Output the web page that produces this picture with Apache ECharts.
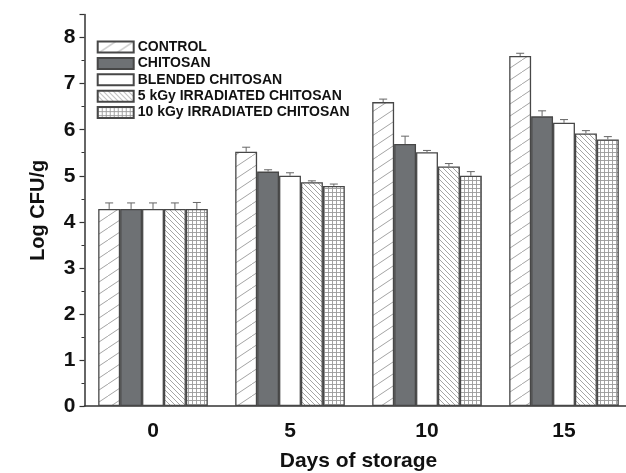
<!DOCTYPE html>
<html>
<head>
<meta charset="utf-8">
<script src="https://cdn.jsdelivr.net/npm/echarts@6/dist/echarts.min.js"></script>
<style>html,body{margin:0;padding:0;background:#fff}#c{width:626px;height:473px}</style>
</head>
<body>
<div id="c"></div>
<script>
// ---- data ----
const days = ['0', '5', '10', '15'];
const seriesNames = ['CONTROL', 'CHITOSAN', 'BLENDED CHITOSAN', '5 kGy IRRADIATED CHITOSAN', '10 kGy IRRADIATED CHITOSAN'];
const control   = [4.28, 5.52, 6.60, 7.60];
const chitosan  = [4.28, 5.09, 5.69, 6.29];
const blended   = [4.28, 5.00, 5.51, 6.15];
const irr5      = [4.28, 4.86, 5.20, 5.92];
const irr10     = [4.28, 4.78, 5.00, 5.79];
const errControl  = [0.13, 0.10, 0.065, 0.06];
const errChitosan = [0.13, 0.04, 0.17, 0.12];
const errBlended  = [0.13, 0.065, 0.04, 0.07];
const errIrr5     = [0.13, 0.03, 0.065, 0.06];
const errIrr10    = [0.14, 0.04, 0.09, 0.06];
const yTicks = [0, 1, 2, 3, 4, 5, 6, 7, 8];

const values = [control, chitosan, blended, irr5, irr10];
const errors = [errControl, errChitosan, errBlended, errIrr5, errIrr10];

// ---- patterns ----
function pat(w, h, draw) {
  const c = document.createElement('canvas');
  c.width = w; c.height = h;
  const g = c.getContext('2d');
  g.fillStyle = '#fff'; g.fillRect(0, 0, w, h);
  g.strokeStyle = '#9a9a9a'; g.lineWidth = 0.9;
  draw(g, w, h);
  return { image: c, repeat: 'repeat' };
}
const fwd = pat(18, 12, (g, w, h) => {
  g.beginPath(); g.moveTo(-w, 2 * h); g.lineTo(2 * w, -h); g.stroke();
});
const back = pat(5, 5, (g, w, h) => {
  g.beginPath(); g.moveTo(-w, -h); g.lineTo(2 * w, 2 * h); g.stroke();
});
const grid = pat(4, 4, (g, w, h) => {
  g.strokeStyle = '#9a9a9a';
  g.beginPath(); g.moveTo(0, 0.5); g.lineTo(w, 0.5); g.moveTo(0.5, 0); g.lineTo(0.5, h); g.stroke();
});
const fills = [fwd, '#6e7174', '#ffffff', back, grid];

const BW = 0.16;
const FONT = 'Liberation Sans, Arial, sans-serif';

const series = [];
values.forEach((v, i) => {
  series.push({
    name: seriesNames[i], type: 'bar', xAxisIndex: 0,
    barWidth: (BW * 100) + '%', barGap: '0%',
    data: v,
    itemStyle: { color: fills[i], borderColor: '#474747', borderWidth: 1.3 },
    emphasis: { disabled: true }
  });
});
values.forEach((v, i) => {
  series.push({
    type: 'custom', xAxisIndex: 0, z: 5, silent: true,
    data: v.map((val, k) => [k, val, errors[i][k]]),
    renderItem: function (params, api) {
      const cx = api.coord([api.value(0), 0])[0] + api.size([1, 0])[0] * BW * (i - 2);
      const y1 = api.coord([api.value(0), api.value(1)])[1];
      const y2 = api.coord([api.value(0), api.value(1) + api.value(2)])[1];
      const st = { stroke: '#666', lineWidth: 1 };
      return { type: 'group', children: [
        { type: 'line', shape: { x1: cx, y1: y1, x2: cx, y2: y2 }, style: st },
        { type: 'line', shape: { x1: cx - 4, y1: y2, x2: cx + 4, y2: y2 }, style: st }
      ]};
    }
  });
});

const chart = echarts.init(document.getElementById('c'), null, { renderer: 'canvas' });
chart.setOption({
  animation: false,
  backgroundColor: '#fff',
  textStyle: { fontFamily: FONT },
  grid: { left: 84.5, top: 14.6, width: 548, height: 391.4, containLabel: false, outerBoundsMode: 'none' },
  legend: {
    data: seriesNames, orient: 'vertical', left: 96.7, top: 40, padding: 0,
    itemWidth: 36, itemHeight: 11, itemGap: 2.4, icon: 'rect',
    selectedMode: false,
    textStyle: { fontFamily: FONT, fontWeight: 'bold', fontSize: 14, color: '#111', lineHeight: 14, padding: [0, 0, 0, -1] }
  },
  xAxis: [{
    type: 'category', data: days,
    name: 'Days of storage', nameLocation: 'middle', nameGap: 45,
    nameTextStyle: { fontFamily: FONT, fontWeight: 'bold', fontSize: 21, color: '#111' },
    axisLine: { lineStyle: { color: '#333', width: 1.5 } },
    axisTick: { alignWithLabel: true, length: 6, lineStyle: { color: '#333', width: 1.3 } },
    axisLabel: { margin: 15, fontFamily: FONT, fontWeight: 'bold', fontSize: 21, color: '#111' },
    splitLine: { show: false }
  }, {
    type: 'category', data: days, position: 'bottom',
    axisLine: { show: false },
    axisTick: { length: 5, lineStyle: { color: '#333', width: 1.2 } },
    axisLabel: { show: false },
    splitLine: { show: false }
  }],
  yAxis: {
    type: 'value', min: 0, max: 8.5, interval: 1,
    name: 'Log CFU/g', nameLocation: 'middle', nameGap: 36, nameRotate: 90,
    nameTextStyle: { fontFamily: FONT, fontWeight: 'bold', fontSize: 20, color: '#111' },
    axisLine: { show: true, lineStyle: { color: '#333', width: 1.5 } },
    axisTick: { show: true, length: 5, lineStyle: { color: '#333', width: 1.2 } },
    minorTick: { show: true, splitNumber: 2, length: 3, lineStyle: { color: '#333', width: 1 } },
    axisLabel: {
      margin: 9, fontFamily: FONT, fontWeight: 'bold', fontSize: 21, color: '#111',
      formatter: v => (yTicks.indexOf(v) >= 0 ? String(v) : '')
    },
    splitLine: { show: false }
  },
  series: series
});
</script>
</body>
</html>
